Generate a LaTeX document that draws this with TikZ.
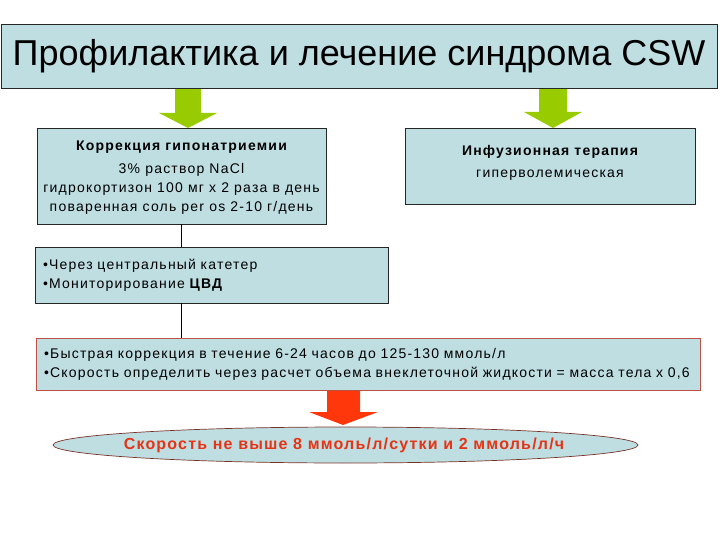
\documentclass[tikz,border=0pt]{standalone}
\usepackage{fontspec}
\setmainfont{Liberation Sans}
\usetikzlibrary{shapes.geometric}
\definecolor{boxfill}{RGB}{190,222,226}
\definecolor{arrgreen}{RGB}{153,204,0}
\definecolor{arrred}{RGB}{255,55,10}
\definecolor{txtred}{RGB}{228,52,22}
\definecolor{redline}{RGB}{190,80,70}
\definecolor{ellline}{RGB}{120,50,40}
\begin{document}
\begin{tikzpicture}[x=1pt,y=-1pt,
  box/.style={draw=black!85, fill=boxfill, line width=0.7pt, inner sep=0pt},
  bodytext/.style={font=\fontsize{14}{19}\selectfont\addfontfeatures{LetterSpace=8.7}},
  greenarrow/.style={fill=arrgreen},
  redarrow/.style={fill=arrred},
  conn/.style={draw=black, line width=0.7pt}]
\useasboundingbox (0,0) rectangle (720,540);

% block arrows
\fill[greenarrow] (175,88) -- (201,88) -- (201,113) -- (217,113) -- (188,128) -- (159,113) -- (175,113) -- cycle;
\fill[greenarrow] (539,88) -- (567,88) -- (567,112) -- (582,112) -- (553,128) -- (524,112) -- (539,112) -- cycle;
\fill[redarrow] (327,390) -- (360,390) -- (360,412) -- (378,412) -- (343,425) -- (309,412) -- (327,412) -- cycle;

% title
\node[box, minimum width=716pt, minimum height=64pt] (title) at (359,56)
  {\fontsize{36}{40}\selectfont Профилактика и лечение синдрома CSW};

% box 1
\node[box, minimum width=289pt, minimum height=96pt, align=center, bodytext] (box1) at (181.5,176)
  {};
\node[align=center, bodytext, inner sep=0pt] (box1text) at (181.5,178)
  {{\bfseries Коррекция гипонатриемии}\\[4pt]
   3\% раствор NaCl\\
   гидрокортизон 100 мг х 2 раза в день\\
   поваренная соль per os 2-10 г/день};

% right box
\node[box, minimum width=290pt, minimum height=76pt] (box4) at (550,166) {};
\node[align=center, inner sep=0pt, font=\fontsize{14}{22}\selectfont\addfontfeatures{LetterSpace=8.7}] (box4text) at (550,163)
  {{\bfseries Инфузионная терапия}\\
   гиперволемическая};

% box 2
\node[box, minimum width=353pt, minimum height=56pt, inner xsep=8pt, text width=337pt, align=left, bodytext] (box2) at (211.5,275)
  {•Через центральный катетер\\
   •Мониторирование {\bfseries ЦВД}};

% box 3
\node[box, draw=redline, minimum width=664pt, minimum height=52pt, inner xsep=8pt, text width=648pt, align=left, bodytext] (box3) at (368,364)
  {•Быстрая коррекция в течение 6-24 часов до 125-130 ммоль/л\\
   •Скорость определить через расчет объема внеклеточной жидкости = масса тела х 0,6};

% ellipse
\draw[draw=ellline, fill=boxfill, line width=0.7pt] (345.5,445) ellipse [x radius=292.5pt, y radius=18pt];
\node[inner sep=0pt, text=txtred, font=\fontsize{16}{18}\selectfont\bfseries\addfontfeatures{LetterSpace=7.5}] (ell) at (344,445)
  {Скорость не выше 8 ммоль/л/сутки и 2 ммоль/л/ч};

% connectors
\draw[conn] (box1.south) -- (box1.south |- box2.north);
\draw[conn] (box1.south |- box2.south) -- (box1.south |- box3.north);
\end{tikzpicture}
\end{document}
